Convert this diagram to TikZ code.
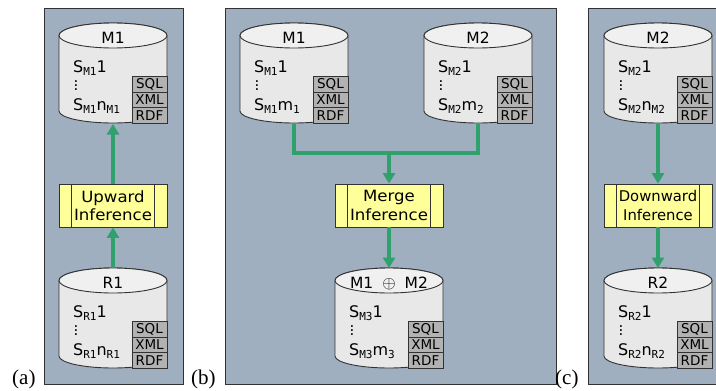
\documentclass[tikz,border=0pt]{standalone}
\usepackage{fontspec}
\setmainfont{DejaVu Sans}
\setmonofont{DejaVu Sans Mono}
\newfontfamily\capfont{Liberation Serif}
\newfontfamily\widefont[FakeStretch=1.07]{DejaVu Sans}
\definecolor{panelblue}{RGB}{160,175,192}
\definecolor{edgegreen}{RGB}{48,160,108}
\definecolor{boxyellow}{RGB}{255,255,153}
\definecolor{dbgray}{RGB}{232,232,232}
\definecolor{dbtop}{RGB}{240,240,240}
\definecolor{taggray}{RGB}{178,178,178}
\definecolor{linegray}{RGB}{50,50,50}
\usetikzlibrary{arrows.meta}
\tikzset{
 x=1pt,y=-1pt,
 panel/.style={draw=linegray,fill=panelblue,line width=0.9pt},
 flow/.style={draw=edgegreen,line width=3.8pt,-{Triangle[length=10.5pt,width=12pt]}},
 flowplain/.style={draw=edgegreen,line width=3.8pt},
 infer/.style={draw=linegray,fill=boxyellow,line width=0.8pt,minimum width=108pt,minimum height=43pt,inner sep=0pt},
 inferlabel/.style={font=\widefont\fontsize{15.5}{18.5}\selectfont,align=center,inner sep=0pt},
 inferlabelnarrow/.style={font=\fontsize{14.8}{18.5}\selectfont,align=center,inner sep=0pt},
 tag/.style={draw=linegray,fill=taggray,line width=0.8pt,minimum width=35pt,minimum height=15.6pt,inner sep=0pt,font=\fontsize{13.5}{15}\selectfont},
 dbtitle/.style={font=\fontsize{15.5}{17}\selectfont,inner sep=0pt},
 dbline/.style={font=\fontsize{16}{18}\selectfont,inner sep=0pt,anchor=base west},
 caption/.style={font=\capfont\fontsize{21}{23}\selectfont,inner sep=0pt,anchor=base west},
}
\newcommand{\Sb}[1]{\raisebox{-3pt}{\fontsize{11}{12}\selectfont\ttfamily #1}}
% name, left x, top y, title, first, last
\newcommand{\database}[6]{%
 \begin{scope}[shift={(#2,#3)}]
 \path[draw=linegray,fill=dbgray,line width=0.9pt] (0,12.5) -- (0,88) arc[start angle=180,end angle=360,x radius=54pt,y radius=12pt] -- (108,12.5) arc[start angle=0,end angle=180,x radius=54pt,y radius=12.5pt] -- cycle;
 \path[draw=linegray,fill=dbtop,line width=0.9pt] (54,12.5) ellipse[x radius=54pt,y radius=12.5pt];
 \node[dbtitle] (#1t) at (54,14.5) {#4};
 \node[dbline] (#1a) at (14,49) {#5};
 \node[font=\fontsize{15}{15}\selectfont,inner sep=0pt] (#1d) at (17,60) {$\vdots$};
 \node[dbline] (#1b) at (14,87) {#6};
 \node[tag] (#1s) at (90.5,61.3) {SQL};
 \node[tag] (#1x) at (90.5,76.9) {XML};
 \node[tag] (#1r) at (90.5,92.5) {RDF};
 \coordinate (#1top) at (54,0);
 \coordinate (#1bot) at (54,101);
 \end{scope}}
\newcommand{\inference}[5][inferlabel]{%
 \node[infer] (#2) at (#3,#4) {};
 \draw[draw=linegray,line width=0.8pt] ([xshift=13pt]#2.north west) -- ([xshift=13pt]#2.south west);
 \draw[draw=linegray,line width=0.8pt] ([xshift=-13pt]#2.north east) -- ([xshift=-13pt]#2.south east);
 \node[#1] (#2l) at (#3,#4) {#5};}
\begin{document}
\begin{tikzpicture}
\useasboundingbox (0,0) rectangle (716,391);
\node[panel,minimum width=139pt,minimum height=376pt,inner sep=0pt] (pa) at (113.5,196) {};
\node[panel,minimum width=331pt,minimum height=376pt,inner sep=0pt] (pb) at (390.5,196) {};
\node[panel,minimum width=140pt,minimum height=376pt,inner sep=0pt] (pc) at (658,196) {};
\node[caption] (ca) at (12,384) {(a)};
\node[caption] (cb) at (191,384) {(b)};
\node[caption] (cc) at (555,384) {(c)};
% (a)
\database{am}{59}{23}{M1}{S\Sb{M1}1}{S\Sb{M1}n\Sb{M1}}
\database{ar}{59}{268}{R1}{S\Sb{R1}1}{S\Sb{R1}n\Sb{R1}}
\inference{ai}{113}{205.5}{Upward\\Inference}
\draw[flow] (ai.north) -- (ambot);
\draw[flow] (artop) -- (ai.south);
% (b)
\database{bm}{240}{23}{M1}{S\Sb{M1}1}{S\Sb{M1}m\Sb{1}}
\database{bn}{424}{23}{M2}{S\Sb{M2}1}{S\Sb{M2}m\Sb{2}}
\database{bo}{335}{268}{M1\hspace{9pt}\smash{\raisebox{-0.5pt}{\fontsize{18}{18}\selectfont$\oplus$}}\hspace{9pt}M2}{S\Sb{M3}1}{S\Sb{M3}m\Sb{3}}
\inference{bi}{389}{205.5}{Merge\\Inference}
\coordinate (bj) at (389,153);
\draw[flowplain] (bmbot) |- (bj) -| (bnbot);
\draw[flow] (bj) -- (bi.north);
\draw[flow] (bi.south) -- (botop);
% (c)
\database{cm}{604}{23}{M2}{S\Sb{M2}1}{S\Sb{M2}n\Sb{M2}}
\database{cr}{604}{268}{R2}{S\Sb{R2}1}{S\Sb{R2}n\Sb{R2}}
\inference[inferlabelnarrow]{ci}{658}{205.5}{Downward\\Inference}
\draw[flow] (cmbot) -- (ci.north);
\draw[flow] (ci.south) -- (crtop);
\end{tikzpicture}
\end{document}
